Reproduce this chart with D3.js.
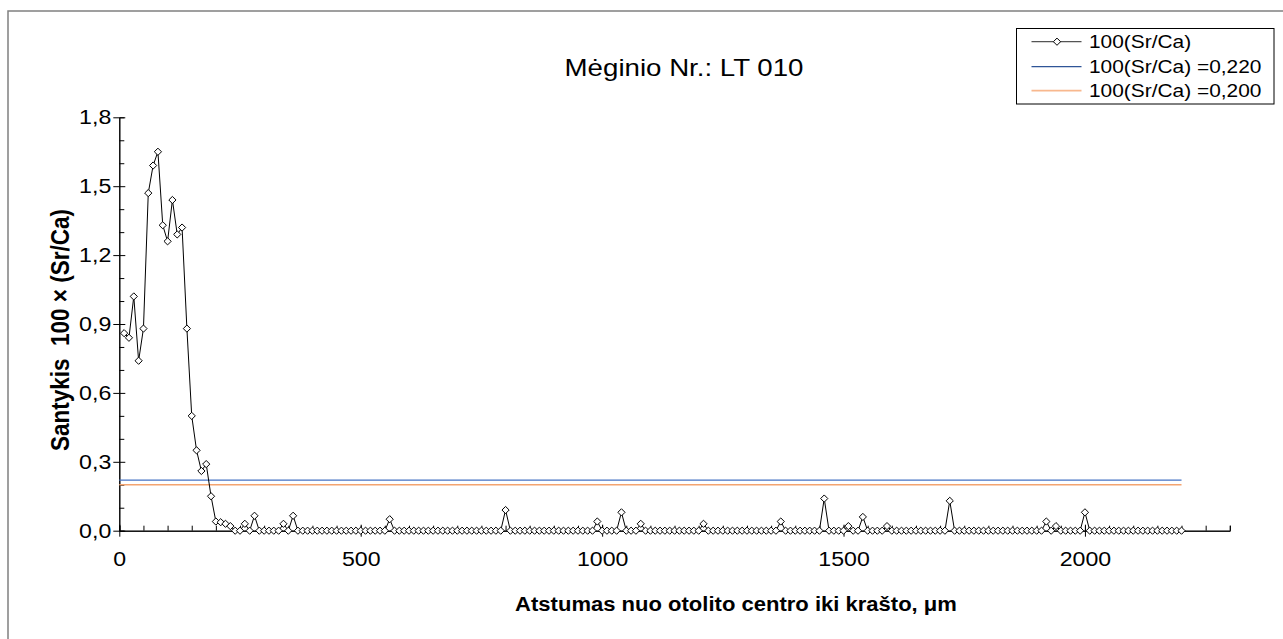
<!DOCTYPE html>
<html>
<head>
<meta charset="utf-8">
<script src="https://cdn.jsdelivr.net/npm/d3@7"></script>
<style>
  body { margin: 0; background: #fff; }
  text { font-family: "Liberation Sans", Arial, sans-serif; fill: #000; }
</style>
</head>
<body>
<script>
// distance from otolith centre, um (sampled every 10 um)
let distance = d3.range(10, 2210, 10);

// 100(Sr/Ca)
let ratio = [
  0.86, 0.84, 1.02, 0.74, 0.88, 1.47, 1.59, 1.65, 1.33, 1.26, 1.44, 1.29, 1.32, 0.88, 0.50, 0.35, 0.26, 0.29, 0.15, 0.04,
  0.037, 0.03, 0.02, 0, 0, 0.03, 0, 0.065, 0, 0, 0, 0, 0, 0.03, 0, 0.065, 0, 0, 0, 0,
  0, 0, 0, 0, 0, 0, 0, 0, 0, 0, 0, 0, 0, 0, 0, 0.05, 0, 0, 0, 0,
  0, 0, 0, 0, 0, 0, 0, 0, 0, 0, 0, 0, 0, 0, 0, 0, 0, 0, 0, 0.09,
  0, 0, 0, 0, 0, 0, 0, 0, 0, 0, 0, 0, 0, 0, 0, 0, 0, 0, 0.04, 0,
  0, 0, 0, 0.08, 0, 0, 0, 0.03, 0, 0, 0, 0, 0, 0, 0, 0, 0, 0, 0, 0,
  0.03, 0, 0, 0, 0, 0, 0, 0, 0, 0, 0, 0, 0, 0, 0, 0, 0.04, 0, 0, 0,
  0, 0, 0, 0, 0, 0.14, 0, 0, 0, 0, 0.02, 0, 0, 0.06, 0, 0, 0, 0, 0.02, 0,
  0, 0, 0, 0, 0, 0, 0, 0, 0, 0, 0, 0.13, 0, 0, 0, 0, 0, 0, 0, 0,
  0, 0, 0, 0, 0, 0, 0, 0, 0, 0, 0, 0.04, 0, 0.02, 0, 0, 0, 0, 0, 0.08,
  0, 0, 0, 0, 0, 0, 0, 0, 0, 0, 0, 0, 0, 0, 0, 0, 0, 0, 0, 0
];

let limitHigh = 0.22;
let limitLow = 0.20;

let xMajor = [0, 500, 1000, 1500, 2000];
let xMinor = d3.range(0, 2350, 50);
let yMajor = [0, 0.3, 0.6, 0.9, 1.2, 1.5, 1.8];
let yMinor = [0.1, 0.2, 0.4, 0.5, 0.7, 0.8, 1.0, 1.1, 1.3, 1.4, 1.6, 1.7];

let legendNames = ['100(Sr/Ca)', '100(Sr/Ca) =0,220', '100(Sr/Ca) =0,200'];

let width = 1283;
let height = 639;
let sx = 1.13; // the picture is a bit wider than tall

let svg = d3.select('body').append('svg')
            .attr('width', width)
            .attr('height', height);

// outer frame
svg.append('rect')
   .attr('x', 8).attr('y', 11)
   .attr('width', 1300).attr('height', 700)
   .attr('fill', 'none')
   .attr('stroke', '#808080')
   .attr('stroke-width', 1.5);

let x = d3.scaleLinear().domain([0, 2300]).range([119.3, 1229.8]);
let y = d3.scaleLinear().domain([0, 1.8]).range([530.7, 117.3]);

let comma = d => d.toFixed(1).replace('.', ',');

// x axis: minor ticks inside, major ticks across
svg.append('g')
   .attr('transform', `translate(0,${y(0)})`)
   .call(d3.axisTop(x).tickValues(xMinor).tickSize(5).tickFormat(''));
let gx = svg.append('g')
            .attr('transform', `translate(0,${y(0)})`)
            .call(d3.axisBottom(x).tickValues(xMajor).tickSize(6).tickSizeOuter(0).tickFormat(d3.format('d')));
gx.selectAll('.tick line').attr('y1', -6).attr('y2', 6);
gx.selectAll('.tick text')
  .attr('y', 35).attr('dy', 0)
  .attr('font-size', 20.5)
  .attr('font-family', '"Liberation Sans", Arial, sans-serif')
  .attr('transform', `scale(${sx},1)`);

// y axis
svg.append('g')
   .attr('transform', `translate(${x(0)},0)`)
   .call(d3.axisRight(y).tickValues(yMinor).tickSize(5).tickFormat(''));
let gy = svg.append('g')
            .attr('transform', `translate(${x(0)},0)`)
            .call(d3.axisLeft(y).tickValues(yMajor).tickSize(6).tickSizeOuter(0).tickFormat(comma));
gy.selectAll('.tick line').attr('x1', 6).attr('x2', -6);
gy.selectAll('.tick text')
  .attr('x', -8 / sx)
  .attr('font-size', 20.5)
  .attr('font-family', '"Liberation Sans", Arial, sans-serif')
  .attr('transform', `scale(${sx},1)`);
svg.selectAll('.domain').attr('stroke', '#000');
svg.selectAll('.tick line').attr('stroke', '#000');

// limit lines
svg.append('line')
   .attr('x1', x(0)).attr('x2', x(2200))
   .attr('y1', y(limitHigh)).attr('y2', y(limitHigh))
   .attr('stroke', '#4472C4').attr('stroke-width', 1.3);
svg.append('line')
   .attr('x1', x(0)).attr('x2', x(2200))
   .attr('y1', y(limitLow)).attr('y2', y(limitLow))
   .attr('stroke', '#F4A470').attr('stroke-width', 1.5);

// series
let points = distance.map((d, i) => ({d: d, v: ratio[i]}));
let diamond = 'M0,-3.6L3.6,0L0,3.6L-3.6,0Z';

svg.append('path')
   .datum(points)
   .attr('fill', 'none')
   .attr('stroke', '#000')
   .attr('stroke-width', 1)
   .attr('d', d3.line().x(p => x(p.d)).y(p => y(p.v)));

svg.selectAll('path.mark').data(points)
   .enter()
   .append('path')
   .attr('class', 'mark')
   .attr('d', diamond)
   .attr('transform', p => `translate(${x(p.d)},${y(p.v)})`)
   .attr('fill', '#fff')
   .attr('stroke', '#000')
   .attr('stroke-width', 1);

// text helper, stretched horizontally like the original
function label(tx, ty, str, size, weight, anchor, rot) {
  return svg.append('text')
            .attr('transform', `translate(${tx},${ty}) scale(${sx},1)` + (rot ? ` rotate(${rot})` : ''))
            .attr('text-anchor', anchor)
            .attr('font-size', size)
            .attr('font-weight', weight)
            .style('white-space', 'pre')
            .text(str);
}

label(684, 76, 'Mėginio Nr.: LT 010', 24.5, 'normal', 'middle');
label(736, 611, 'Atstumas nuo otolito centro iki krašto, μm', 19.5, 'bold', 'middle');
label(69, 330, 'Santykis  100 × (Sr/Ca)', 22.5, 'bold', 'middle', -90);

// legend
svg.append('rect')
   .attr('x', 1016.5).attr('y', 28.5)
   .attr('width', 257.5).attr('height', 75.5)
   .attr('fill', '#fff')
   .attr('stroke', '#000').attr('stroke-width', 1);

let legendColors = ['#555', '#2F5597', '#F8B88E'];
let rowY = [41.7, 66.7, 90.7];
legendNames.forEach((name, i) => {
  svg.append('line')
     .attr('x1', 1031.5).attr('x2', 1081.5)
     .attr('y1', rowY[i]).attr('y2', rowY[i])
     .attr('stroke', legendColors[i])
     .attr('stroke-width', i == 2 ? 1.8 : 1.3);
  label(1089, rowY[i] + 6.6, name, 18.5, 'normal', 'start');
});
svg.append('path')
   .attr('d', diamond)
   .attr('transform', `translate(1057,${rowY[0]})`)
   .attr('fill', '#fff')
   .attr('stroke', '#000');
</script>
</body>
</html>
